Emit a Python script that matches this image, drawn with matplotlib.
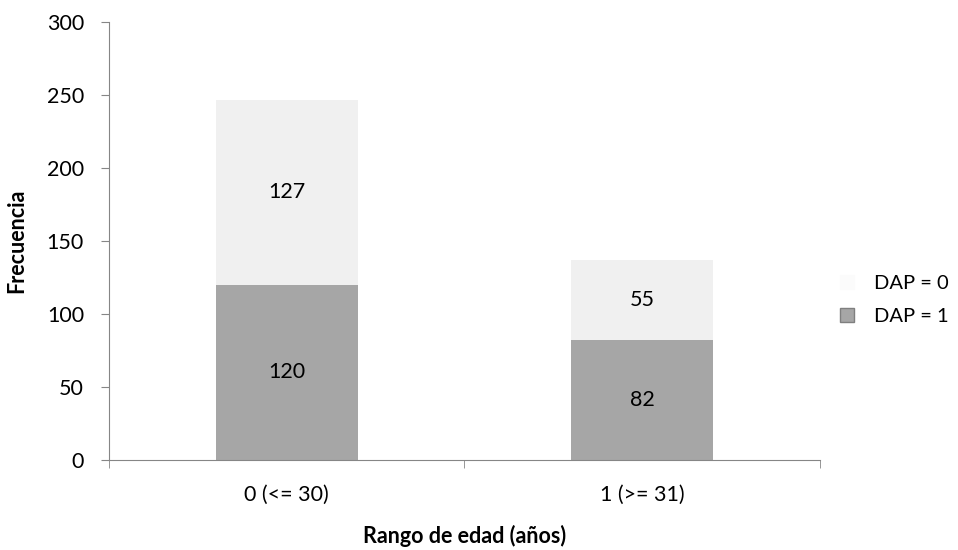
import matplotlib.pyplot as plt
from matplotlib.patches import Patch

plt.rcParams['font.family'] = ['Lato', 'DejaVu Sans']

categorias = ["0 (<= 30)", "1 (>= 31)"]
dap1 = [120, 82]
dap0 = [127, 55]

fig = plt.figure(figsize=(9.58, 5.5), dpi=100)
ax = fig.add_axes([0.1138, 0.1636, 0.742, 0.796])

x = range(len(categorias))
b1 = ax.bar(x, dap1, width=0.4, color="#a6a6a6", label="DAP = 1")
b0 = ax.bar(x, dap0, width=0.4, bottom=dap1, color="#f0f0f0", label="DAP = 0")

for bars, vals, bottoms in [(b1, dap1, [0, 0]), (b0, dap0, dap1)]:
    for r, v, b in zip(bars, vals, bottoms):
        ax.text(r.get_x() + r.get_width() / 2, b + v / 2, str(v),
                ha="center", va="center", fontsize=15.5)

ax.set_xlim(-0.5, 1.5)
ax.set_ylim(0, 300)
ax.set_yticks(range(0, 301, 50))
ax.set_xticks(list(x))
ax.set_xticklabels(categorias)
ax.set_xticks([-0.5, 0.5, 1.5], minor=True)
ax.tick_params(axis="x", which="major", length=0, labelsize=15.5, pad=18)
ax.tick_params(axis="x", which="minor", length=6, color="#868686")
ax.tick_params(axis="y", length=6, color="#868686", labelsize=15.5, pad=12)

for s in ["top", "right"]:
    ax.spines[s].set_visible(False)
for s in ["left", "bottom"]:
    ax.spines[s].set_color("#868686")

ax.set_ylabel("Frecuencia", fontsize=15.5, fontweight="bold", labelpad=14)
ax.set_xlabel("Rango de edad (años)", fontsize=15.5, fontweight="bold", labelpad=14)

# DAP = 0 marker is practically invisible in the original
handles = [Patch(facecolor="#fbfbfb", edgecolor="#fbfbfb", label="DAP = 0"),
           Patch(facecolor="#a6a6a6", edgecolor="#7f7f7f", label="DAP = 1")]
fig.legend(handles=handles, loc="center left", bbox_to_anchor=(840 / 958, 1 - 300 / 550),
           frameon=False, fontsize=14.5, handlelength=0.7, handleheight=0.7,
           handletextpad=1.0, labelspacing=0.75, borderpad=0, borderaxespad=0)

fig.savefig("out.png", dpi=100)
